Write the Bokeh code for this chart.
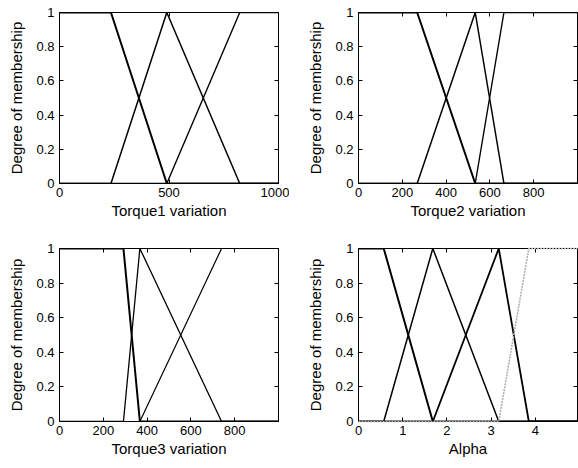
from bokeh.plotting import figure
from bokeh.layouts import gridplot
from bokeh.models import FixedTicker, LinearAxis, Range1d
from bokeh.embed import file_html
from bokeh.resources import INLINE

# Membership functions, piecewise linear over a shared breakpoint vector per variable

# Torque1 variation
t1_x = [0, 235, 490, 823, 1000]
t1_mf1 = [1, 1, 0, 0, 0]
t1_mf2 = [0, 0, 1, 0, 0]
t1_mf3 = [0, 0, 0, 1, 1]
t1_ticks = [0, 500, 1000]

# Torque2 variation
t2_x = [0, 268, 533, 664, 1000]
t2_mf1 = [1, 1, 0, 0, 0]
t2_mf2 = [0, 0, 1, 0, 0]
t2_mf3 = [0, 0, 0, 1, 1]
t2_ticks = [0, 200, 400, 600, 800]

# Torque3 variation
t3_x = [0, 292, 367, 740, 1000]
t3_mf1 = [1, 1, 0, 0, 0]
t3_mf2 = [0, 0, 1, 0, 0]
t3_mf3 = [0, 0, 0, 1, 1]
t3_ticks = [0, 200, 400, 600, 800]

# Alpha
al_x = [0, 0.57, 1.68, 3.17, 3.85, 4.95]
al_mf1 = [1, 1, 0, 0, 0, 0]
al_mf2 = [0, 0, 1, 0, 0, 0]
al_mf3 = [0, 0, 0, 1, 0, 0]
al_mf4 = [0, 0, 0, 0, 1, 1]
al_ticks = [0, 1, 2, 3, 4]

y_ticks = [0, 0.2, 0.4, 0.6, 0.8, 1]
y_tick_labels = ["0", "0.2", "0.4", "0.6", "0.8", "1"]

FONT = "Liberation Sans"


def panel(xs, mfs, widths, colors, dashes, xticks, xlabel, height, top, bottom, left, right):
    p = figure(width=289, height=height, output_backend="svg", toolbar_location=None,
               x_range=Range1d(xs[0], xs[-1]), y_range=Range1d(0, 1),
               min_border_left=left, min_border_right=right,
               min_border_top=top, min_border_bottom=bottom,
               x_axis_label=xlabel, y_axis_label="Degree of membership")
    p.grid.visible = False
    p.outline_line_color = "black"
    p.outline_line_width = 1
    p.background_fill_color = "white"
    p.border_fill_color = "white"

    for ys, w, c, d in zip(mfs, widths, colors, dashes):
        lvl = "overlay" if c != "black" else "glyph"
        p.line(xs, ys, line_color=c, line_width=w, line_dash=d, level=lvl)

    xt = FixedTicker(ticks=xticks)
    yt = FixedTicker(ticks=y_ticks)
    p.xaxis.ticker = xt
    p.yaxis.ticker = yt
    p.yaxis.major_label_overrides = dict(zip(y_ticks, y_tick_labels))

    # mirrored inner ticks on the top and right edges (tick marks only)
    p.add_layout(LinearAxis(ticker=xt, major_label_text_color=None), "above")
    p.add_layout(LinearAxis(ticker=yt, major_label_text_color=None), "right")

    for ax in p.axis:
        ax.axis_line_color = None
        ax.major_tick_in = 4
        ax.major_tick_out = 0
        ax.major_tick_line_color = "black"
        ax.minor_tick_line_color = None
        ax.major_label_text_font = FONT
        ax.axis_label_text_font = FONT
        ax.axis_label_text_font_style = "normal"
        ax.axis_label_text_color = "black"

    for ax in (p.below[0], p.left[0]):
        ax.major_label_text_color = "black"
        ax.major_label_text_font_size = "13px"
        ax.axis_label_text_font_size = "15px"
    p.below[0].major_label_standoff = 4
    p.below[0].axis_label_standoff = 2
    p.left[0].major_label_standoff = 5
    p.left[0].axis_label_standoff = 8
    p.above[0].major_label_standoff = 0
    p.right[0].major_label_standoff = 0
    return p


p1 = panel(t1_x, [t1_mf1, t1_mf2, t1_mf3], [2, 1.5, 1.4], ["black"] * 3, ["solid"] * 3,
           t1_ticks, "Torque1 variation", 230, 12, 47, 59, 11)
p2 = panel(t2_x, [t2_mf1, t2_mf2, t2_mf3], [2, 1.5, 1.4], ["black"] * 3, ["solid"] * 3,
           t2_ticks, "Torque2 variation", 230, 12, 47, 69, 1)
p3 = panel(t3_x, [t3_mf1, t3_mf2, t3_mf3], [2, 1.3, 1.2], ["black"] * 3, ["solid"] * 3,
           t3_ticks, "Torque3 variation", 238, 18, 47, 59, 11)
p4 = panel(al_x, [al_mf1, al_mf2, al_mf3, al_mf4], [2, 1.5, 1.8, 1.6],
           ["black", "black", "black", "#b0b0b0"], ["solid", "solid", "solid", "2 1"],
           al_ticks, "Alpha", 238, 18, 47, 69, 1)

grid = gridplot([[p1, p2], [p3, p4]], toolbar_location=None)

with open("out.html", "w") as f:
    f.write(file_html(grid, INLINE))
